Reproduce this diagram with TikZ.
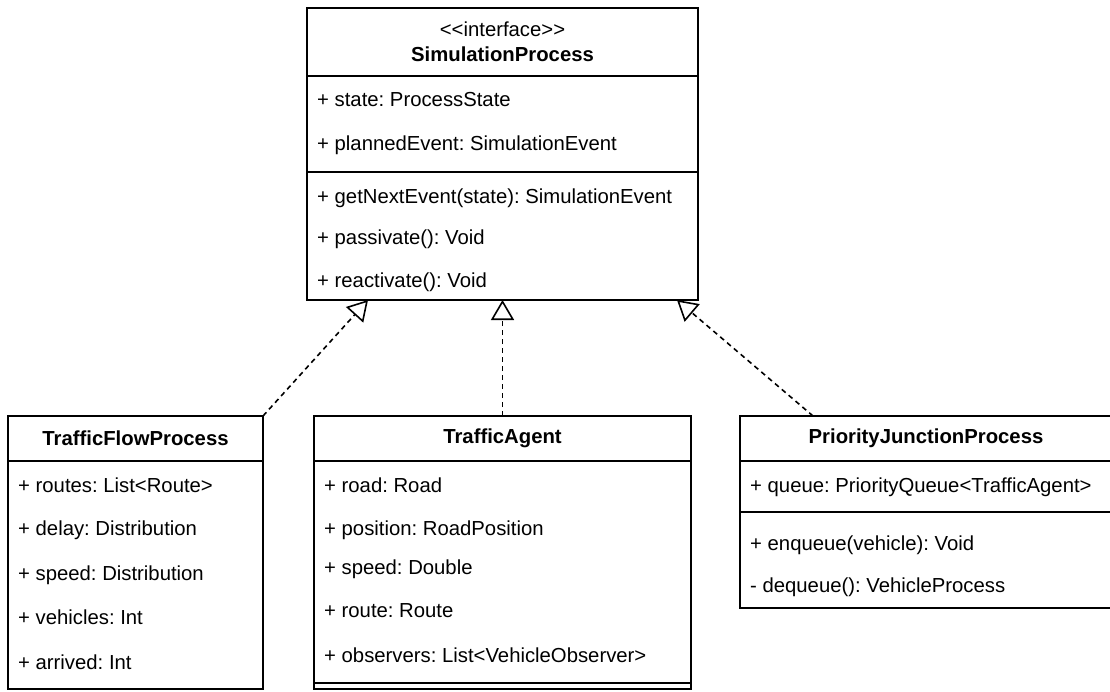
\documentclass[tikz,border=0pt]{standalone}
\usepackage{fontspec}
\setmainfont{Liberation Sans}[Ligatures=TeXOff]
\usetikzlibrary{arrows.meta,positioning}
\frenchspacing

\tikzset{
  umlbox/.style={draw, line width=1.7pt, outer sep=0pt, inner sep=0pt, minimum width=#1},
  member/.style={anchor=base west, inner sep=0pt},
  realize/.style={line width=1.6pt, dash pattern=on 5pt off 4pt,
    -{Triangle[open,length=20pt,width=23pt]}},
}

\begin{document}
\begin{tikzpicture}[x=1pt,y=-1pt,font={\fontsize{20.3}{25}\selectfont}]
 \useasboundingbox (0,0) rectangle (1110,691);

 %the interface
    \node[umlbox=391pt, minimum height=68pt, align=center] (simHead) at (502.5,42)
       {<<interface>>\\\textbf{SimulationProcess}};
    \node[umlbox=391pt, minimum height=96pt, below=0pt of simHead] (simAttr) {};
    \node[umlbox=391pt, minimum height=128pt, below=0pt of simAttr] (simOps) {};
    \node[member] (simA1) at (317,106) {+ state: ProcessState};
    \node[member] (simA2) at (317,150) {+ plannedEvent: SimulationEvent};
    \node[member] (simO1) at (317,203) {+ getNextEvent(state): SimulationEvent};
    \node[member] (simO2) at (317,244) {+ passivate(): Void};
    \node[member] (simO3) at (317,287) {+ reactivate(): Void};

 %the flow process
    \node[umlbox=255pt, minimum height=45pt] (tfpHead) at (135.5,438.5) {\textbf{TrafficFlowProcess}};
    \node[umlbox=255pt, minimum height=228pt, below=0pt of tfpHead] (tfpAttr) {};
    \node[member] (tfpA1) at (18,492) {+ routes: List<Route>};
    \node[member] (tfpA2) at (18,535) {+ delay: Distribution};
    \node[member] (tfpA3) at (18,580) {+ speed: Distribution};
    \node[member] (tfpA4) at (18,624) {+ vehicles: Int};
    \node[member] (tfpA5) at (18,669) {+ arrived: Int};

 %the agent
    \node[umlbox=377pt, minimum height=45pt] (taHead) at (502.5,438.5) {\textbf{TrafficAgent}};
    \node[umlbox=377pt, minimum height=222pt, below=0pt of taHead] (taAttr) {};
    \node[umlbox=377pt, minimum height=6pt, below=0pt of taAttr] (taOps) {};
    \node[member] (taA1) at (324,492) {+ road: Road};
    \node[member] (taA2) at (324,535) {+ position: RoadPosition};
    \node[member] (taA3) at (324,574) {+ speed: Double};
    \node[member] (taA4) at (324,617) {+ route: Route};
    \node[member] (taA5) at (324,662) {+ observers: List<VehicleObserver>};

 %the junction
    \node[umlbox=372pt, minimum height=45pt] (pjpHead) at (926,438.5) {\textbf{PriorityJunctionProcess}};
    \node[umlbox=372pt, minimum height=51pt, below=0pt of pjpHead] (pjpAttr) {};
    \node[umlbox=372pt, minimum height=96pt, below=0pt of pjpAttr] (pjpOps) {};
    \node[member] (pjpA1) at (750,492) {+ queue: PriorityQueue<TrafficAgent>};
    \node[member] (pjpO1) at (750,550) {+ enqueue(vehicle): Void};
    \node[member] (pjpO2) at (750,592) {- dequeue(): VehicleProcess};

 %the arrows
    \begin{scope}[every path/.style={realize}]
       \draw (tfpHead.north east) -- ([xshift=61pt]simOps.south west);
       \draw (taHead.north) -- (simOps.south);
       \draw ([xshift=73pt]pjpHead.north west) -- ([xshift=-21pt]simOps.south east);
    \end{scope}
\end{tikzpicture}
\end{document}
